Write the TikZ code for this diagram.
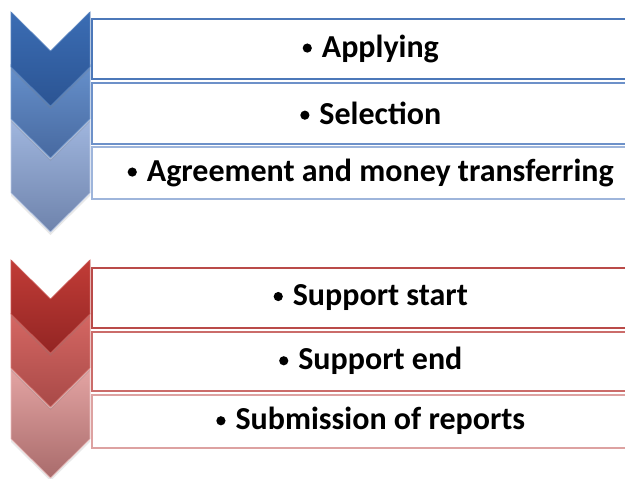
\documentclass[tikz,border=0pt]{standalone}
\usepackage{fontspec}
\usepackage{graphicx}
\setmainfont{Carlito}
\usetikzlibrary{shadows}
\definecolor{bA1}{HTML}{3B6DB4}\definecolor{bA2}{HTML}{2B5493}
\definecolor{bB1}{HTML}{6690CB}\definecolor{bB2}{HTML}{4769A0}
\definecolor{bC1}{HTML}{A0B6DE}\definecolor{bC2}{HTML}{6E83AC}
\definecolor{rA1}{HTML}{C13C37}\definecolor{rA2}{HTML}{932523}
\definecolor{rB1}{HTML}{D56763}\definecolor{rB2}{HTML}{A84947}
\definecolor{rC1}{HTML}{E3A4A3}\definecolor{rC2}{HTML}{A96B6B}
\definecolor{lbA}{HTML}{4C78B9}\definecolor{lbB}{HTML}{6D91C9}\definecolor{lbC}{HTML}{9EB5DB}
\definecolor{lrA}{HTML}{BA4B49}\definecolor{lrB}{HTML}{CB6C6A}\definecolor{lrC}{HTML}{DDA2A1}
\newcommand{\bul}{\raisebox{4.6pt}{\tikz\fill[black] (0,0) circle[radius=4.6pt];}\hspace{10pt}}
\tikzset{
  txtbox/.style={rectangle, draw=#1, line width=1.5pt, fill=white, anchor=north west,
    minimum width=558pt, inner sep=0pt, font=\fontsize{32}{36}\selectfont\bfseries},
  chev/.style n args={3}{top color=#1, bottom color=#2, draw=#3, line width=0.7pt,
    drop shadow={shadow xshift=0pt, shadow yshift=-3pt, opacity=0.18}}
}
\newcommand{\chevpath}[2]{(11,#1) -- (50.5,#1+39) -- (90,#1) -- (90,#1+#2-39) -- (50.5,#1+#2) -- (11,#1+#2-39) -- cycle}
\begin{document}
\begin{tikzpicture}[x=1pt,y=-1pt]
\useasboundingbox (0,0) rectangle (625,479);
\begin{scope}
\clip (0,0) rectangle (625,479);
% blue text boxes
\node[txtbox=lbA, minimum height=60pt] (b1) at (91,18) {\bul Applying};
\node[txtbox=lbB, minimum height=61pt] (b2) at (91,82) {\bul Selection};
\node[txtbox=lbC, minimum height=52pt] (b3) at (91,146) {\bul Agreement and money transferring};
% red text boxes
\node[txtbox=lrA, minimum height=60pt] (r1) at (91,267) {\bul Support start};
\node[txtbox=lrB, minimum height=59pt] (r2) at (91,331) {\bul Support end};
\node[txtbox=lrC, minimum height=53pt] (r3) at (91,394) {\bul Submission of reports};
\end{scope}
% blue chevrons
\path[chev={bC1}{bC2}{bC1!70!white}] \chevpath{120}{112};
\path[chev={bB1}{bB2}{bB1!85!white}] \chevpath{65}{93};
\path[chev={bA1}{bA2}{bA1!85!white}] \chevpath{12}{94};
% red chevrons
\path[chev={rC1}{rC2}{rC1!70!white}] \chevpath{369}{109};
\path[chev={rB1}{rB2}{rB1!85!white}] \chevpath{314}{93};
\path[chev={rA1}{rA2}{rA1!85!white}] \chevpath{260}{93};
\end{tikzpicture}
\end{document}
